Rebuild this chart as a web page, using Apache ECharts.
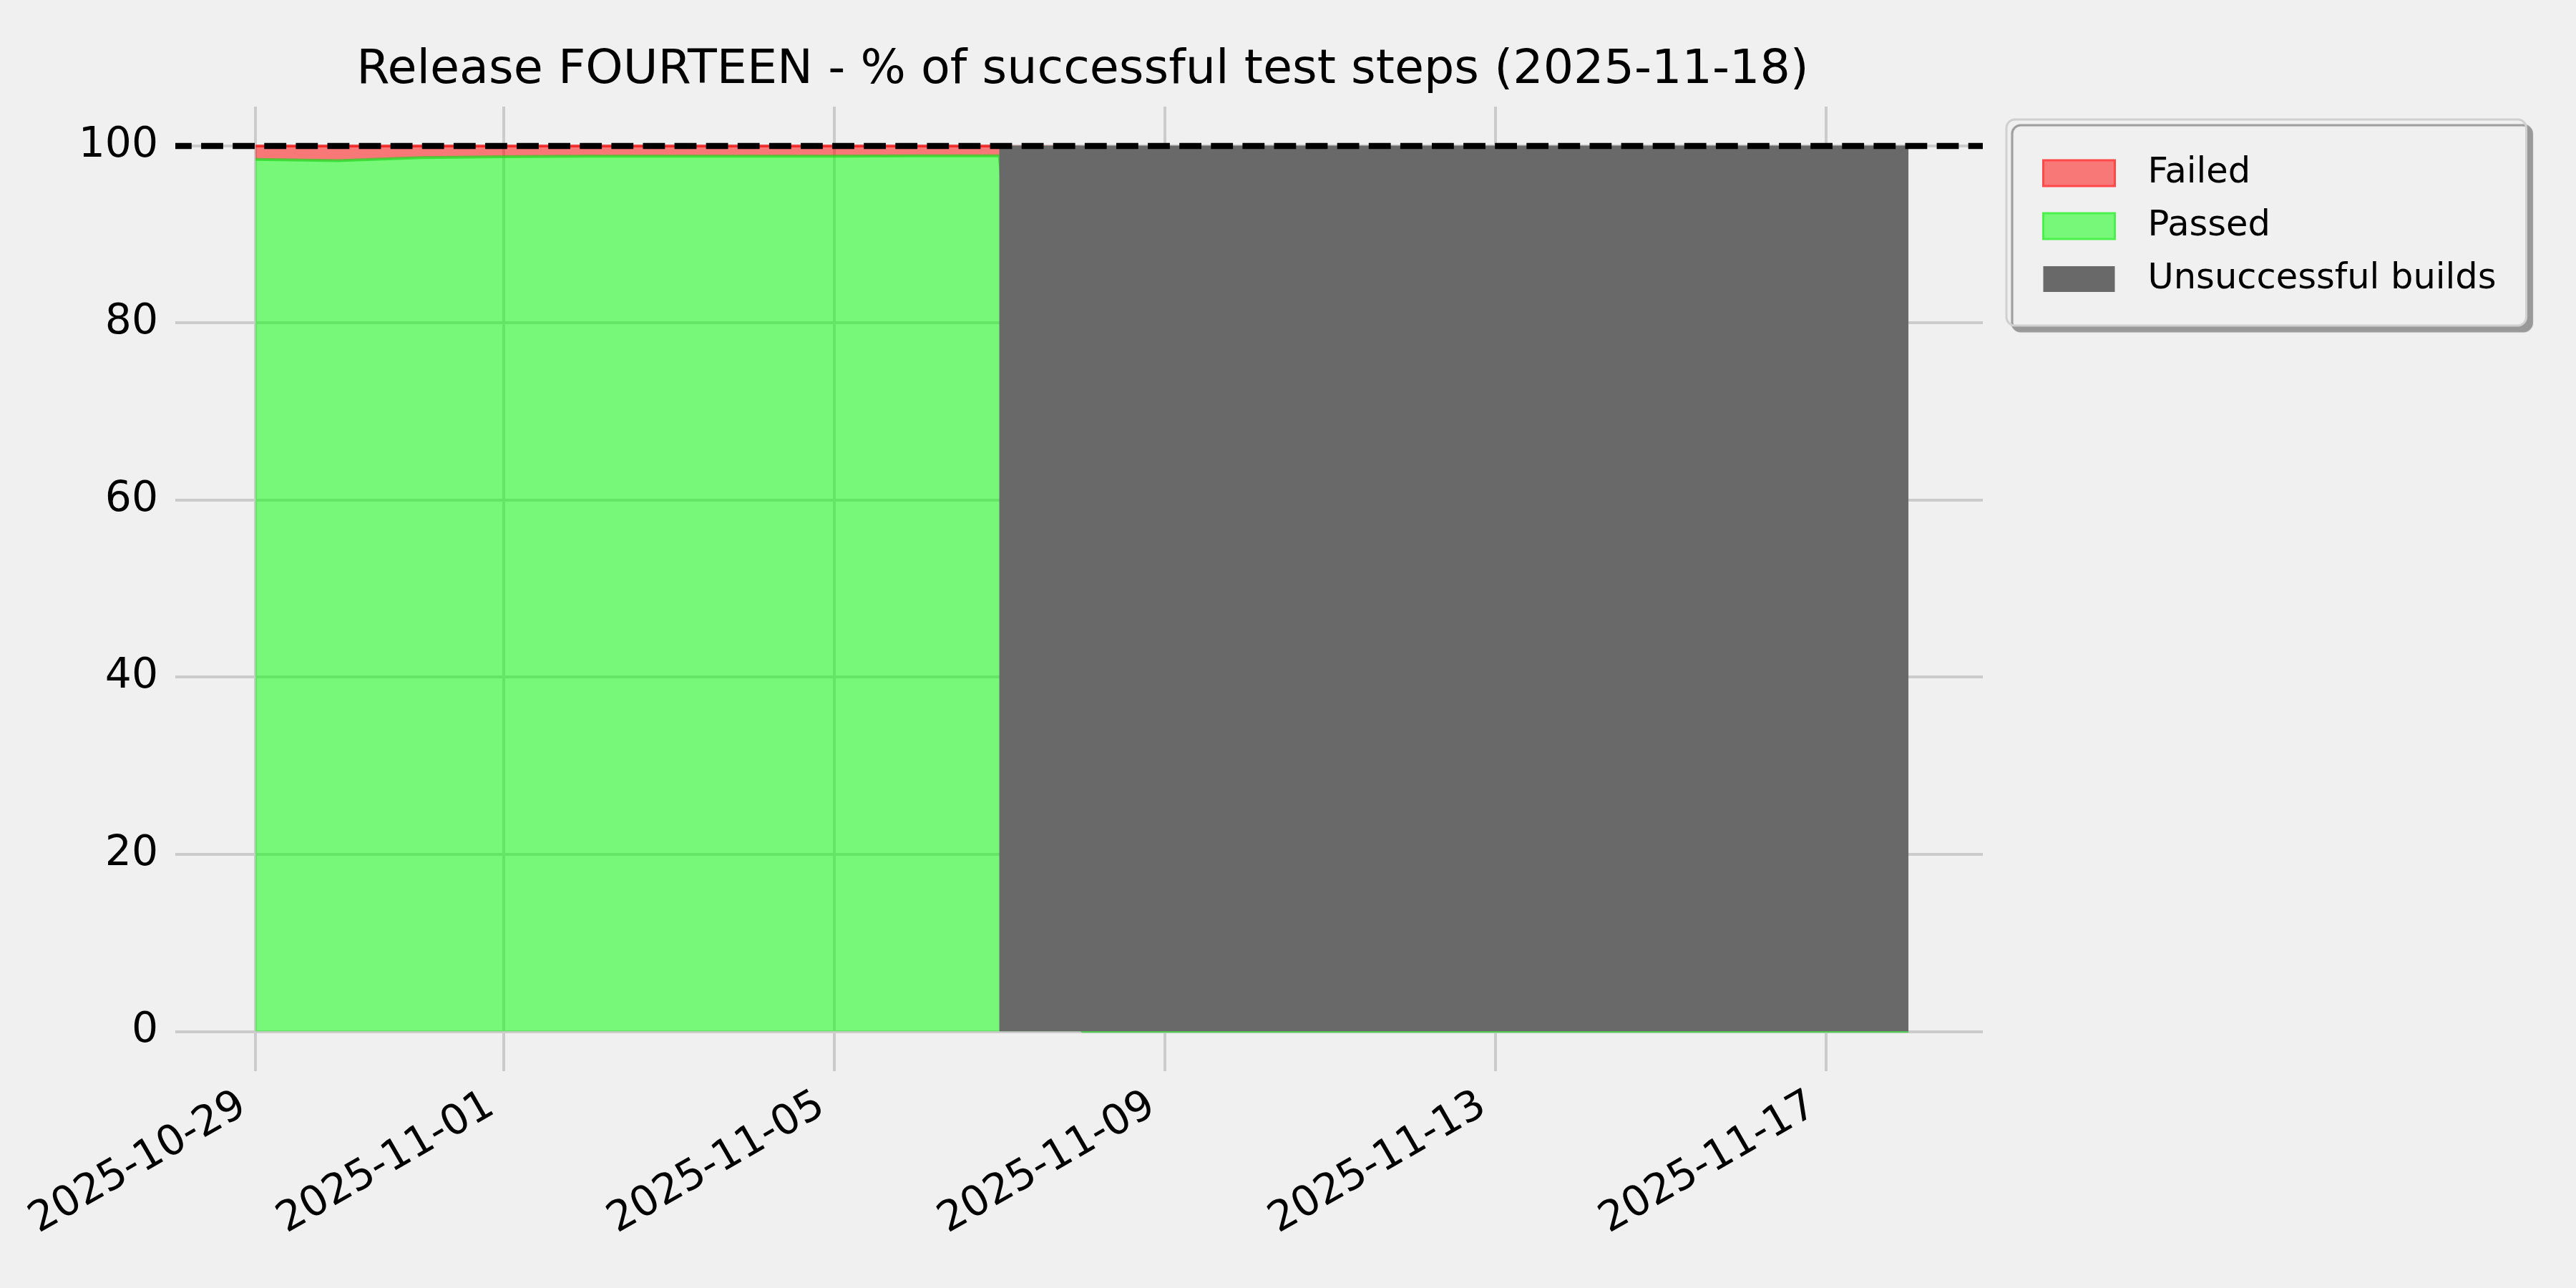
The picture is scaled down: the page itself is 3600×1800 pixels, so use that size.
<!DOCTYPE html>
<html>
<head>
<meta charset="utf-8">
<script src="https://cdn.jsdelivr.net/npm/echarts@6/dist/echarts.min.js"></script>
<style>
  html, body { margin: 0; padding: 0; background: #f0f0f0; }
  #chart { width: 3600px; height: 1800px; }
</style>
</head>
<body>
<div id="chart"></div>
<script>
// daily test results, release FOURTEEN
const dates = [
  '2025-10-29', '2025-10-30', '2025-10-31', '2025-11-01', '2025-11-02', '2025-11-03', '2025-11-04',
  '2025-11-05', '2025-11-06', '2025-11-07', '2025-11-08', '2025-11-09', '2025-11-10', '2025-11-11',
  '2025-11-12', '2025-11-13', '2025-11-14', '2025-11-15', '2025-11-16', '2025-11-17', '2025-11-18'
]
const passed = [98.45, 98.3, 98.65, 98.75, 98.8, 98.8, 98.8, 98.8, 98.85, 98.85, 0, 0, 0, 0, 0, 0, 0, 0, 0, 0, 0]
const failed = [1.55, 1.7, 1.35, 1.25, 1.2, 1.2, 1.2, 1.2, 1.15, 1.15, 0, 0, 0, 0, 0, 0, 0, 0, 0, 0, 0]

// days where the build did not succeed
const unsuccessfulDates = [
  '2025-11-07', '2025-11-08', '2025-11-09', '2025-11-10', '2025-11-11', '2025-11-12',
  '2025-11-13', '2025-11-14', '2025-11-15', '2025-11-16', '2025-11-17', '2025-11-18'
]
const unsuccessful = [100, 100, 100, 100, 100, 100, 100, 100, 100, 100, 100, 100]

const xTicks = ['2025-10-29', '2025-11-01', '2025-11-05', '2025-11-09', '2025-11-13', '2025-11-17']
const yTicks = [0, 20, 40, 60, 80, 100]
const target = 100

const DAY = 86400000
const ts = s => {
  const [y, m, d] = s.split('-').map(Number)
  return new Date(y, m - 1, d).getTime()
}
const pad2 = n => (n < 10 ? '0' : '') + n
const fmtDate = v => {
  const d = new Date(v)
  return d.getFullYear() + '-' + pad2(d.getMonth() + 1) + '-' + pad2(d.getDate())
}
const zip = (xs, ys) => xs.map((x, i) => [ts(x), ys[i]])
// failed band sits on top of passed, up to 100 %
const failedBottom = failed.map(f => target - f)

const FONT = 'DejaVu Sans'
const chart = echarts.init(document.getElementById('chart'), null, { renderer: 'canvas' })

chart.setOption({
  animation: false,
  backgroundColor: '#f0f0f0',
  textStyle: { fontFamily: FONT },
  title: {
    text: 'Release FOURTEEN - % of successful test steps (2025-11-18)',
    left: 1508,
    top: 60,
    textAlign: 'center',
    textStyle: { fontFamily: FONT, fontSize: 66.7, fontWeight: 'normal', color: '#000' }
  },
  legend: {
    orient: 'vertical',
    left: 2804,
    top: 167,
    padding: [50, 42, 40, 50],
    itemWidth: 100,
    itemHeight: 36,
    itemGap: 24,
    icon: 'rect',
    backgroundColor: '#f0f0f0',
    borderColor: '#d0d0d0',
    borderWidth: 3,
    borderRadius: 12,
    shadowColor: '#999999',
    shadowBlur: 1,
    shadowOffsetX: 8,
    shadowOffsetY: 8,
    selectedMode: false,
    textStyle: { fontFamily: FONT, fontSize: 49.5, color: '#000', padding: [0, 0, 0, 41] },
    data: [
      { name: 'Failed', itemStyle: { color: '#f87878', borderColor: '#ff4848', borderWidth: 3 } },
      { name: 'Passed', itemStyle: { color: '#78f878', borderColor: '#4cf04c', borderWidth: 3 } },
      { name: 'Unsuccessful builds', itemStyle: { color: '#696969', borderWidth: 0 } }
    ]
  },
  grid: { left: 245, top: 149, width: 2526, height: 1348, containLabel: false },
  xAxis: {
    type: 'value',
    min: ts(dates[0]) - 0.97 * DAY,
    max: ts(dates[dates.length - 1]) + 0.9 * DAY,
    axisLine: { show: false },
    axisTick: { show: false, customValues: xTicks.map(ts) },
    splitLine: { show: true, lineStyle: { color: '#cbcbcb', width: 4 } },
    axisLabel: {
      customValues: xTicks.map(ts),
      rotate: 30,
      margin: 34,
      padding: [0, 20, 0, 0],
      color: '#000',
      fontFamily: FONT,
      fontSize: 58.3,
      formatter: v => fmtDate(v)
    }
  },
  yAxis: {
    type: 'value',
    min: -4.5,
    max: 104.4,
    axisLine: { show: false },
    axisTick: { show: false, customValues: yTicks },
    splitLine: { show: true, lineStyle: { color: '#cbcbcb', width: 4 } },
    axisLabel: {
      customValues: yTicks,
      margin: 24,
      color: '#000',
      fontFamily: FONT,
      fontSize: 58.3
    }
  },
  series: [
    {
      name: 'Failed',
      type: 'line',
      showSymbol: false,
      symbol: 'none',
      data: zip(dates, failedBottom),
      lineStyle: { width: 0, color: '#f87878' },
      itemStyle: { color: '#f87878' },
      areaStyle: { color: 'rgba(255,0,0,0.5)', opacity: 1, origin: target },
      markLine: {
        silent: true,
        symbol: 'none',
        label: { show: false },
        lineStyle: { color: 'rgba(255,0,0,0.6)', width: 4, type: 'solid' },
        data: [[{ coord: [ts(dates[0]), target] }, { coord: [ts(unsuccessfulDates[0]), target] }]]
      },
      z: 2
    },
    {
      name: 'Passed',
      type: 'line',
      showSymbol: false,
      symbol: 'none',
      data: zip(dates, passed),
      lineStyle: { color: 'rgba(30,215,30,0.7)', width: 4 },
      itemStyle: { color: '#78f878' },
      areaStyle: { color: 'rgba(0,255,0,0.5)', opacity: 1 },
      z: 3
    },
    {
      name: 'Unsuccessful builds',
      type: 'line',
      showSymbol: false,
      symbol: 'none',
      data: zip(unsuccessfulDates, unsuccessful),
      lineStyle: { width: 0, color: '#696969' },
      itemStyle: { color: '#696969' },
      areaStyle: { color: '#696969', opacity: 1 },
      z: 4
    },
    {
      name: 'target',
      type: 'line',
      data: [],
      z: 10,
      markLine: {
        silent: true,
        symbol: 'none',
        label: { show: false },
        lineStyle: { color: '#000', width: 8.3, type: [30.8, 13.3], dashOffset: 8 },
        data: [{ yAxis: target }]
      }
    }
  ]
})
</script>
</body>
</html>
